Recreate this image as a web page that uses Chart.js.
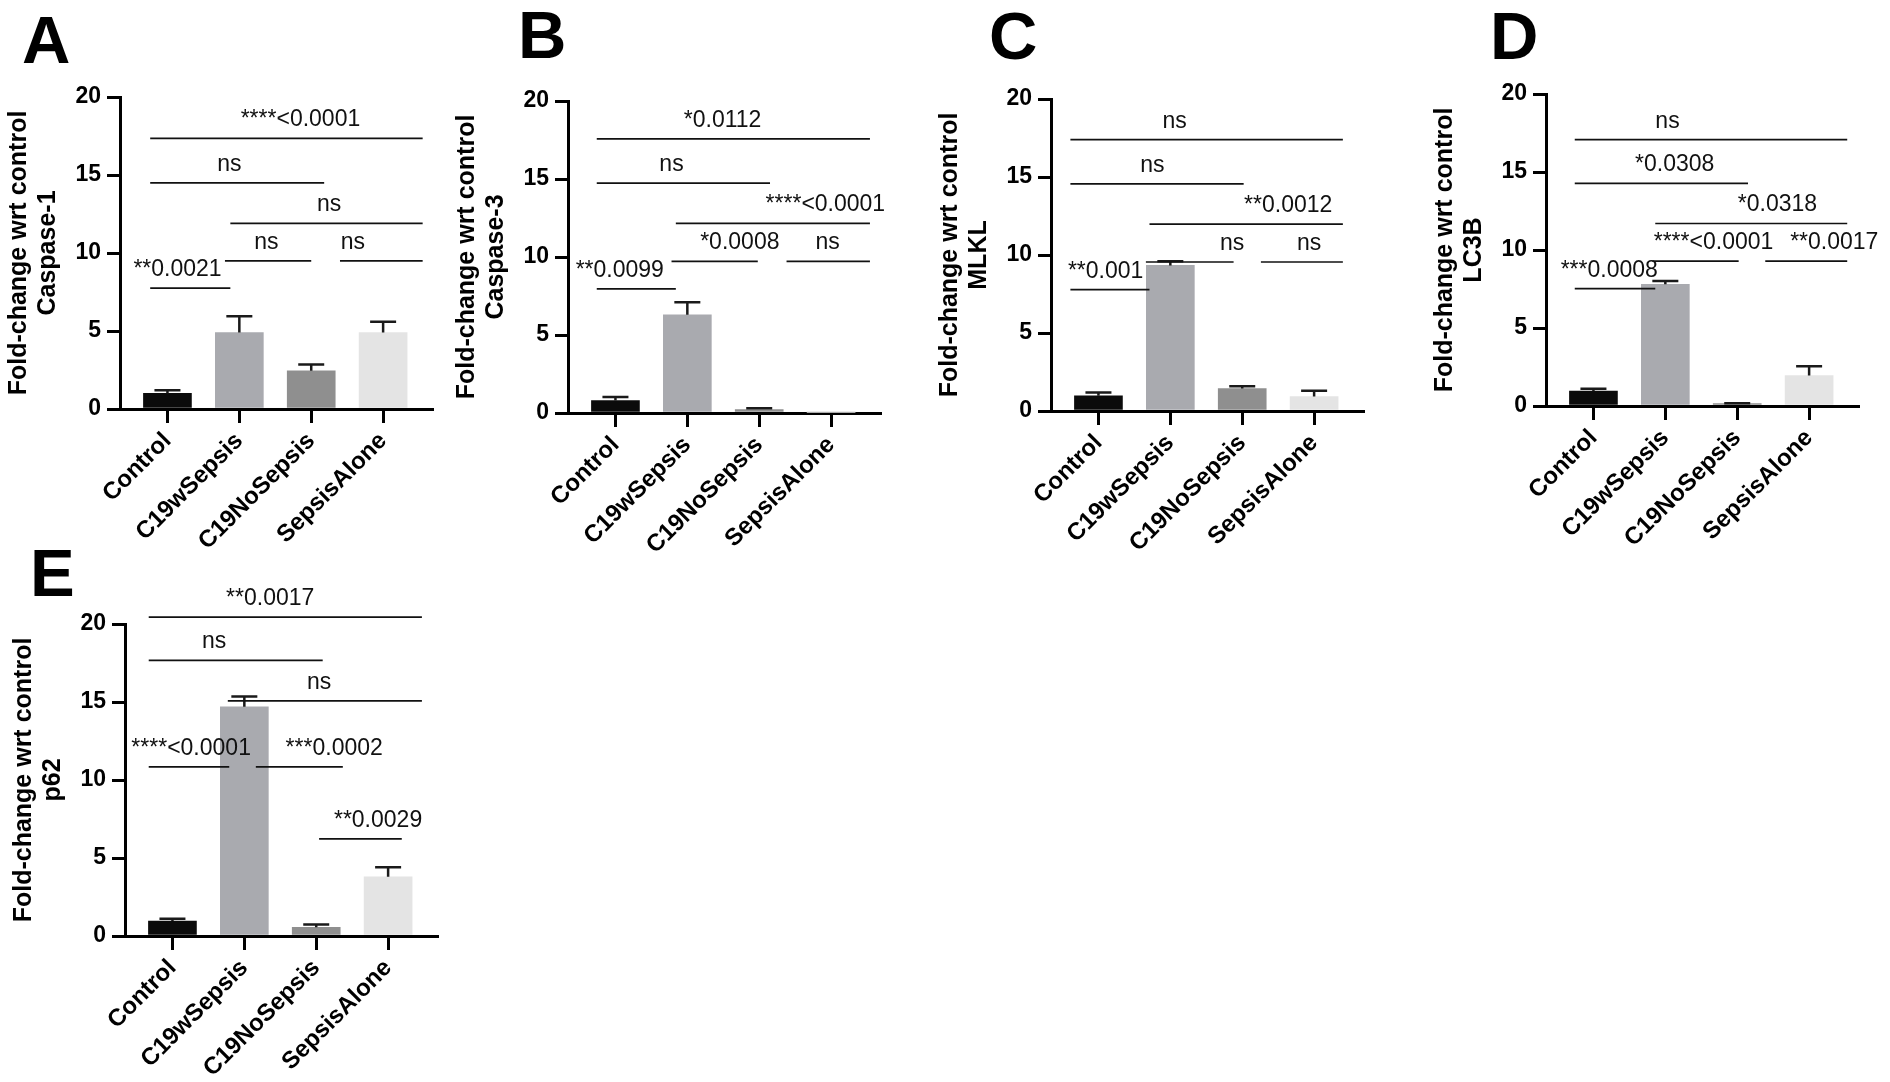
<!DOCTYPE html>
<html>
<head>
<meta charset="utf-8">
<script src="https://cdn.jsdelivr.net/npm/chart.js@4.4.1/dist/chart.umd.min.js"></script>
<style>
html,body{margin:0;padding:0;background:#fff;}
#wrap{position:relative;width:1890px;height:1082px;overflow:hidden;background:#fff;}
canvas{position:absolute;}
</style>
</head>
<body>
<div id="wrap">
<canvas id="cA"></canvas>
<canvas id="cB"></canvas>
<canvas id="cC"></canvas>
<canvas id="cD"></canvas>
<canvas id="cE"></canvas>
</div>
<script>
// ---------- data ----------
const categories = ['Control', 'C19wSepsis', 'C19NoSepsis', 'SepsisAlone'];
const yTicks = [0, 5, 10, 15, 20];
const yTitleMain = 'Fold-change wrt control';

const caspase1    = [1.0, 4.9, 2.45, 4.9];
const caspase1Err = [0.2, 1.05, 0.4, 0.7];
const caspase3    = [0.8, 6.3, 0.22, 0.03];
const caspase3Err = [0.22, 0.8, 0.08, 0];
const mlkl        = [0.97, 9.33, 1.44, 0.93];
const mlklErr     = [0.22, 0.27, 0.15, 0.37];
const lc3b        = [0.95, 7.8, 0.15, 1.95];
const lc3bErr     = [0.15, 0.22, 0.02, 0.6];
const p62         = [0.96, 14.69, 0.56, 3.8];
const p62Err      = [0.15, 0.67, 0.17, 0.6];

// significance brackets: [from category, to category, y level, label, label centre]
const caspase1Stats = [
  [-0.24, 3.55, 17.35, '****<0.0001', 1.85],
  [-0.24, 2.18, 14.5, 'ns', 0.86],
  [0.875, 3.55, 11.9, 'ns', 2.25],
  [0.80, 2.0, 9.5, 'ns', 1.375],
  [2.4, 3.55, 9.5, 'ns', 2.58],
  [-0.24, 0.875, 7.75, '**0.0021', 0.14]
];
const caspase3Stats = [
  [-0.26, 3.54, 17.57, '*0.0112', 1.49],
  [-0.26, 2.15, 14.74, 'ns', 0.78],
  [0.84, 3.54, 12.15, '****<0.0001', 2.92],
  [0.78, 1.98, 9.72, '*0.0008', 1.73],
  [2.38, 3.54, 9.72, 'ns', 2.95],
  [-0.26, 0.84, 7.96, '**0.0099', 0.06]
];
const mlklStats = [
  [-0.39, 3.40, 17.4, 'ns', 1.06],
  [-0.39, 2.02, 14.56, 'ns', 0.75],
  [0.71, 3.40, 11.98, '**0.0012', 2.64],
  [0.66, 1.88, 9.55, 'ns', 1.86],
  [2.26, 3.40, 9.55, 'ns', 2.93],
  [-0.39, 0.71, 7.78, '**0.001', 0.10]
];
const lc3bStats = [
  [-0.26, 3.53, 17.08, 'ns', 1.03],
  [-0.26, 2.15, 14.27, '*0.0308', 1.13],
  [0.86, 3.53, 11.70, '*0.0318', 2.56],
  [0.82, 2.02, 9.29, '****<0.0001', 1.67],
  [2.39, 3.53, 9.29, '**0.0017', 3.35],
  [-0.26, 0.86, 7.53, '***0.0008', 0.22]
];
const p62Stats = [
  [-0.33, 3.47, 20.44, '**0.0017', 1.36],
  [-0.33, 2.09, 17.67, 'ns', 0.58],
  [0.77, 3.47, 15.07, 'ns', 2.04],
  [-0.33, 0.79, 10.84, '****<0.0001', 0.26],
  [1.16, 2.37, 10.84, '***0.0002', 2.25],
  [2.04, 3.19, 6.22, '**0.0029', 2.86]
];

// ---------- styling / layout ----------
const FONT = "'Liberation Sans', Arial, Helvetica, sans-serif";
const barColors = ['#0b0b0b', '#a9aaaf', '#8f8f8f', '#e4e4e4'];
const YW = 120, PT = 92, PR = 50, XH = 160, PW = 312, PH = 312;

const errorBarPlugin = {
  id: 'errorBars',
  afterDatasetsDraw(chart) {
    const ds = chart.data.datasets[0];
    const xs = chart.scales.x, ys = chart.scales.y, ctx = chart.ctx;
    ctx.save();
    ctx.strokeStyle = '#1a1a1a';
    ctx.lineWidth = 2.5;
    ds.errs.forEach((e, i) => {
      if (!e) return;
      const v = ds.data[i].y;
      const x = xs.getPixelForValue(i);
      const y0 = ys.getPixelForValue(v);
      const y1 = ys.getPixelForValue(v + e);
      ctx.beginPath();
      ctx.moveTo(x, y0); ctx.lineTo(x, y1);
      ctx.moveTo(x - 13, y1); ctx.lineTo(x + 13, y1);
      ctx.stroke();
    });
    ctx.restore();
  }
};

const bracketPlugin = {
  id: 'sigBrackets',
  afterDraw(chart, args, opts) {
    const xs = chart.scales.x, ys = chart.scales.y, ctx = chart.ctx;
    ctx.save();
    ctx.strokeStyle = '#111';
    ctx.fillStyle = '#111';
    ctx.lineWidth = 1.7;
    ctx.font = '23px ' + FONT;
    ctx.textAlign = 'center';
    ctx.textBaseline = 'alphabetic';
    (opts.stats || []).forEach(s => {
      const xa = xs.getPixelForValue(s[0]);
      const xb = xs.getPixelForValue(s[1]);
      const py = ys.getPixelForValue(s[2]);
      ctx.beginPath();
      ctx.moveTo(xa, py); ctx.lineTo(xb, py);
      ctx.stroke();
      ctx.fillText(s[3], xs.getPixelForValue(s[4]), py - 12);
    });
    ctx.restore();
  }
};

const letterPlugin = {
  id: 'panelLetter',
  afterDraw(chart, args, opts) {
    const ctx = chart.ctx;
    ctx.save();
    ctx.fillStyle = '#000';
    ctx.font = 'bold 67px ' + FONT;
    ctx.textAlign = 'left';
    ctx.textBaseline = 'alphabetic';
    ctx.fillText(opts.text, opts.x, opts.y);
    ctx.restore();
  }
};

function panel(id, letter, lx, ly, left, top, values, errs, stats, subTitle) {
  const cv = document.getElementById(id);
  const w = YW + PW + PR, h = PT + PH + XH;
  const cl = left - YW, ct = top - PT;
  cv.width = w; cv.height = h;
  cv.style.width = w + 'px'; cv.style.height = h + 'px';
  cv.style.left = cl + 'px'; cv.style.top = ct + 'px';
  new Chart(cv, {
    type: 'bar',
    data: {
      datasets: [{
        data: values.map((v, i) => ({ x: i, y: v })),
        errs: errs,
        backgroundColor: barColors,
        borderWidth: 0,
        barThickness: 48
      }]
    },
    options: {
      responsive: false,
      animation: false,
      devicePixelRatio: 1,
      layout: { padding: { top: PT, right: PR, left: 0, bottom: 0 } },
      plugins: {
        legend: { display: false },
        tooltip: { enabled: false },
        sigBrackets: { stats: stats },
        panelLetter: { text: letter, x: lx - cl, y: ly - ct }
      },
      scales: {
        x: {
          type: 'linear',
          offset: false,
          min: -0.66, max: 3.68,
          afterBuildTicks: s => { s.ticks = categories.map((c, i) => ({ value: i })); },
          afterFit: s => { s.height = XH; },
          ticks: {
            callback: v => categories[v],
            minRotation: 45, maxRotation: 45, autoSkip: false,
            color: '#000', padding: 4,
            font: { family: FONT, weight: 'bold', size: 24 }
          },
          grid: { display: true, offset: false, drawOnChartArea: false, drawTicks: true, tickLength: 14, color: '#000', lineWidth: 3 },
          border: { display: true, color: '#000', width: 3 }
        },
        y: {
          min: 0, max: 20,
          afterBuildTicks: s => { s.ticks = yTicks.map(v => ({ value: v })); },
          afterFit: s => { s.width = YW; },
          ticks: { color: '#000', padding: 6, font: { family: FONT, weight: 'bold', size: 23 } },
          grid: { display: true, drawOnChartArea: false, drawTicks: true, tickLength: 13, color: '#000', lineWidth: 3 },
          border: { display: true, color: '#000', width: 3 },
          title: {
            display: true,
            text: [yTitleMain, subTitle],
            color: '#000',
            padding: { top: 5, bottom: 0 },
            font: { family: FONT, weight: 'bold', size: 25, lineHeight: 1.16 }
          }
        }
      }
    },
    plugins: [errorBarPlugin, bracketPlugin, letterPlugin]
  });
}

panel('cA', 'A', 22, 63, 120, 97, caspase1, caspase1Err, caspase1Stats, 'Caspase-1');
panel('cB', 'B', 518, 58, 568, 101, caspase3, caspase3Err, caspase3Stats, 'Caspase-3');
panel('cC', 'C', 989, 58, 1051, 98.5, mlkl, mlklErr, mlklStats, 'MLKL');
panel('cD', 'D', 1490, 59, 1546, 94, lc3b, lc3bErr, lc3bStats, 'LC3B');
panel('cE', 'E', 30, 596, 125, 624, p62, p62Err, p62Stats, 'p62');
</script>
</body>
</html>
